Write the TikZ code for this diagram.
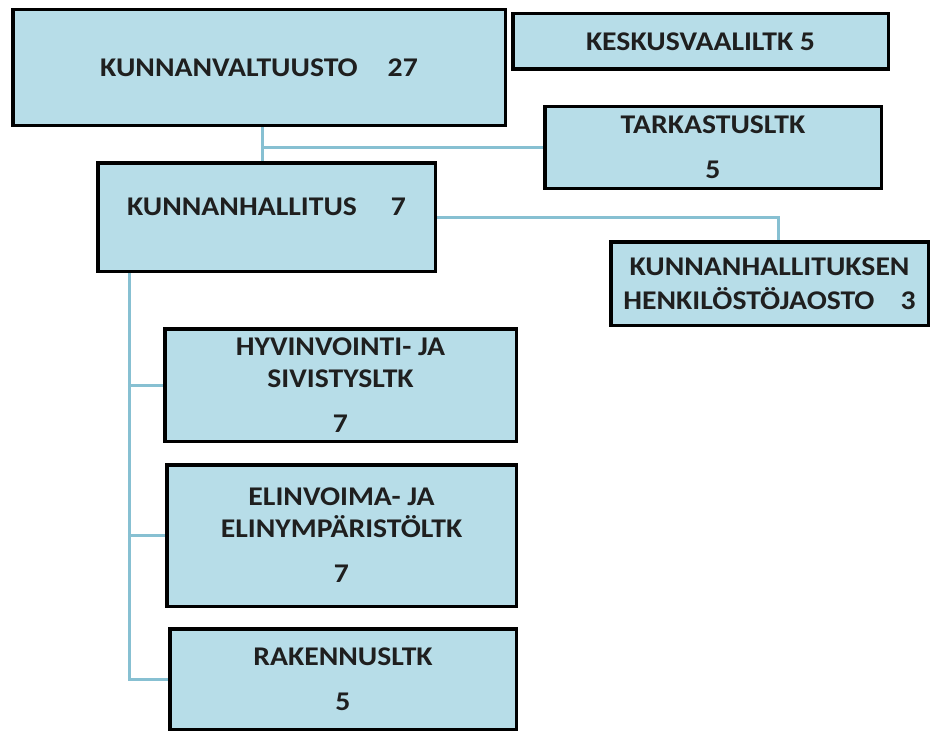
\documentclass[tikz,border=0pt]{standalone}
\usepackage{fontspec}
\setmainfont[FakeStretch=1.1]{Carlito}
\usetikzlibrary{positioning,backgrounds}
\definecolor{boxfill}{RGB}{183,221,232}
\definecolor{linkblue}{RGB}{135,192,210}

\begin{document}
\begin{tikzpicture}[x=1pt,y=-1pt,
    box/.style={draw=black,line width=3.5pt,fill=boxfill,inner sep=0pt,align=center,
      font=\fontsize{27}{32}\selectfont\bfseries,text=black!88},
    link/.style={draw=linkblue,line width=3pt}]
    \useasboundingbox (0,0) rectangle (936,733);
    % toimielimet
    \node[box,minimum width=492.5pt,minimum height=115.5pt] (valtuusto) at (259,67.5) {KUNNANVALTUUSTO\hspace{30pt}27};
    \node[box,minimum width=375.5pt,minimum height=55.5pt] (vaalilk) at (700.5,41.5) {KESKUSVAALILTK 5};
    \node[box,minimum width=336.5pt,minimum height=81.5pt] (tarkastus) at (713,147.5) {TARKASTUSLTK\\[13pt]5};
    \node[box,minimum width=337.5pt,minimum height=108.5pt,text depth=20pt] (hallitus) at (266.5,217) {KUNNANHALLITUS\hspace{34pt}7};
    \node[box,minimum width=317.5pt,minimum height=83.5pt] (jaosto) at (769.5,283.5) {KUNNANHALLITUKSEN\\[2pt]HENKILÖSTÖJAOSTO\hspace{26pt}3};
    \node[box,minimum width=351.5pt,minimum height=112.5pt] (hyvinvointi) at (340.5,385) {HYVINVOINTI- JA\\SIVISTYSLTK\\[13pt]7};
    \node[box,minimum width=349.5pt,minimum height=141.5pt] (elinvoima) at (341.5,535.5) {ELINVOIMA- JA\\ELINYMPÄRISTÖLTK\\[13pt]7};
    \node[box,minimum width=346.5pt,minimum height=100.5pt] (rakennus) at (343,679) {RAKENNUSLTK\\[13pt]5};
    % yhteydet
    \coordinate (haara) at (262,147);
    \coordinate (runko) at (129,0);
    \begin{scope}[on background layer]
    \draw[link] (valtuusto.south -| haara) -- (hallitus.north -| haara);
    \draw[link] (haara) -- (haara -| tarkastus.west);
    \draw[link] (hallitus.east) -| ([xshift=9pt]jaosto.north);
    \draw[link] (hallitus.south -| runko) |- (rakennus.west);
    \foreach \n in {hyvinvointi,elinvoima}
      \draw[link] (\n.west) -- (\n.west -| runko);
    \end{scope}
\end{tikzpicture}
\end{document}
